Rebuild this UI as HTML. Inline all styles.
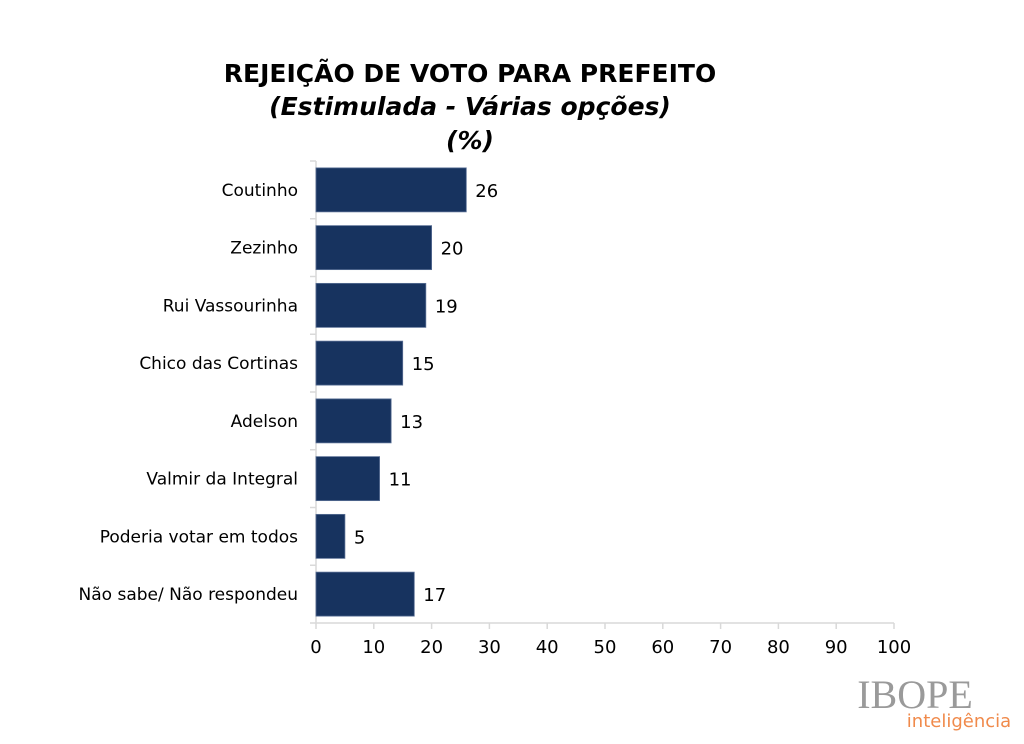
<!DOCTYPE html>
<html><head><meta charset="utf-8"><style>
body{margin:0;background:#fff;width:1024px;height:739px;overflow:hidden;font-family:"Liberation Sans","DejaVu Sans",sans-serif}
svg text{font-family:"DejaVu Sans","Liberation Sans",sans-serif}
</style></head><body>
<svg width="1024" height="739">
<text x="470" y="82" text-anchor="middle" font-size="25" font-weight="bold">REJEIÇÃO DE VOTO PARA PREFEITO</text>
<text x="470" y="115" text-anchor="middle" font-size="25" font-weight="bold" font-style="italic">(Estimulada - Várias opções)</text>
<text x="470" y="149" text-anchor="middle" font-size="25" font-weight="bold" font-style="italic">(%)</text>
<g id="plot"></g>
<text x="915" y="708" text-anchor="middle" font-size="40" fill="#9a9a9a" style="font-family:'Liberation Serif',serif">IBOPE</text>
<text x="959" y="727" text-anchor="middle" font-size="18" fill="#f08a4b">inteligência</text>
</svg>
<script>
const categories=["Coutinho","Zezinho","Rui Vassourinha","Chico das Cortinas","Adelson","Valmir da Integral","Poderia votar em todos","Não sabe/ Não respondeu"];
const values=[26,20,19,15,13,11,5,17];
const ticks=[0,10,20,30,40,50,60,70,80,90,100];
const NS="http://www.w3.org/2000/svg";
const plotG=document.getElementById('plot');
const x0=316,x1=894,plotTop=161,plotBot=623,band=(plotBot-plotTop)/categories.length;
const xs=v=>x0+(x1-x0)*v/100;
function mk(t,a){const el=document.createElementNS(NS,t);for(const k in a)el.setAttribute(k,a[k]);plotG.appendChild(el);return el;}
let el;
el=mk('line',{x1:x0,y1:plotTop,x2:x0,y2:plotBot,stroke:'#d9d9d9','stroke-width':1.5});


el=mk('line',{x1:x0,y1:plotBot,x2:x1,y2:plotBot,stroke:'#d9d9d9','stroke-width':1.5});


for(let i=0;i<=categories.length;i++){
 el=mk('line',{x1:x0-6,y1:plotTop+i*band,x2:x0,y2:plotTop+i*band,stroke:'#d9d9d9','stroke-width':1.5});
 
 
}
ticks.forEach(t=>{
 el=mk('line',{x1:xs(t),y1:plotBot,x2:xs(t),y2:plotBot+6,stroke:'#d9d9d9','stroke-width':1.5});
 
 
 el=mk('text',{x:xs(t),y:plotBot+30,'text-anchor':'middle','font-size':18});
 el.textContent=t;
 
 
});
categories.forEach((c,i)=>{
 const cy=plotTop+band*(i+0.5);
 el=mk('text',{x:298,y:cy+6,'text-anchor':'end','font-size':17});
 el.textContent=c;
 
 
 el=mk('rect',{x:x0,y:cy-22,width:xs(values[i])-x0,height:44,fill:'#17335f',stroke:'#5a6f95','stroke-width':0.8});
 
 
 el=mk('text',{x:xs(values[i])+9,y:cy+7,'font-size':18});
 el.textContent=values[i];
 
 
});
</script>
</body></html>
